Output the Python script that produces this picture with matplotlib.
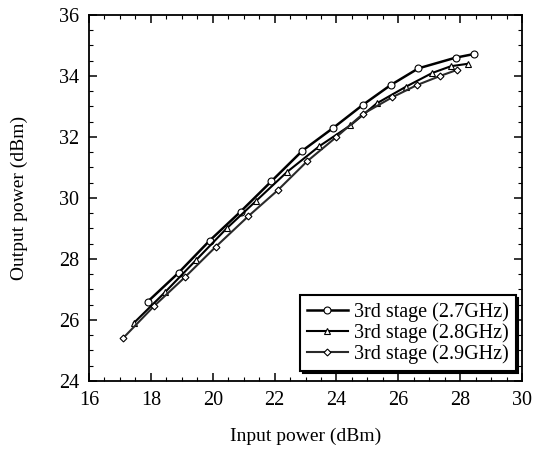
import numpy as np
import matplotlib.pyplot as plt
from matplotlib.ticker import MultipleLocator

plt.rcParams['font.family'] = ['Liberation Serif', 'DejaVu Serif']

# 3rd stage, 2.7 GHz (circles)
pin_27 = [17.9, 18.9, 19.9, 20.9, 21.9, 22.9, 23.9, 24.85, 25.75, 26.65, 27.85, 28.45]
pout_27 = [26.6, 27.55, 28.6, 29.55, 30.55, 31.55, 32.3, 33.05, 33.7, 34.25, 34.6, 34.72]

# 3rd stage, 2.8 GHz (triangles)
pin_28 = [17.45, 18.45, 19.45, 20.45, 21.4, 22.4, 23.45, 24.45, 25.3, 26.25, 27.1, 27.7, 28.25]
pout_28 = [25.9, 26.9, 27.95, 29.0, 29.9, 30.85, 31.7, 32.38, 33.1, 33.65, 34.1, 34.32, 34.4]

# 3rd stage, 2.9 GHz (diamonds)
pin_29 = [17.1, 18.1, 19.1, 20.1, 21.15, 22.1, 23.05, 24.0, 24.85, 25.8, 26.6, 27.35, 27.9]
pout_29 = [25.4, 26.45, 27.4, 28.4, 29.4, 30.25, 31.2, 32.0, 32.75, 33.3, 33.7, 34.0, 34.2]

labels = ['3rd stage (2.7GHz)', '3rd stage (2.8GHz)', '3rd stage (2.9GHz)']

fig = plt.figure(figsize=(5.36, 4.54), dpi=100)
ax = fig.add_axes([0.166, 0.161, 0.808, 0.806])

ax.plot(pin_27, pout_27, color='black', lw=1.8, marker='o', ms=5,
        mfc='white', mec='black', mew=0.8, label=labels[0])
ax.plot(pin_28, pout_28, color='black', lw=1.5, marker='^', ms=4.5,
        mfc='white', mec='black', mew=0.8, label=labels[1])
ax.plot(pin_29, pout_29, color='#2a2a2a', lw=1.5, marker='D', ms=3.5,
        mfc='white', mec='black', mew=0.8, label=labels[2])

ax.set_xlim(16, 30)
ax.set_ylim(24, 36)
ax.xaxis.set_major_locator(MultipleLocator(2))
ax.xaxis.set_minor_locator(MultipleLocator(0.5))
ax.yaxis.set_major_locator(MultipleLocator(2))
ax.yaxis.set_minor_locator(MultipleLocator(0.5))
ax.tick_params(which='both', direction='in', top=True, right=True, labelsize=14.5)
ax.tick_params(which='major', length=6, width=1.1, pad=7)
ax.tick_params(which='minor', length=3, width=0.8)
for s in ax.spines.values():
    s.set_linewidth(1.3)

ax.set_xlabel('Input power (dBm)', fontsize=14, labelpad=13)
ax.set_ylabel('Output power (dBm)', fontsize=14, labelpad=22)

leg = ax.legend(loc='lower right', bbox_to_anchor=(0.985, 0.028), borderaxespad=0,
                fontsize=14.5, frameon=True, fancybox=False,
                shadow={'color': 'black', 'alpha': 1},
                edgecolor='black', handlelength=2.0, handletextpad=0.3,
                labelspacing=0.05, borderpad=0.35)
leg.get_frame().set_linewidth(1.5)
leg.get_frame().set_alpha(1)

plt.savefig('out.png', dpi=100)
